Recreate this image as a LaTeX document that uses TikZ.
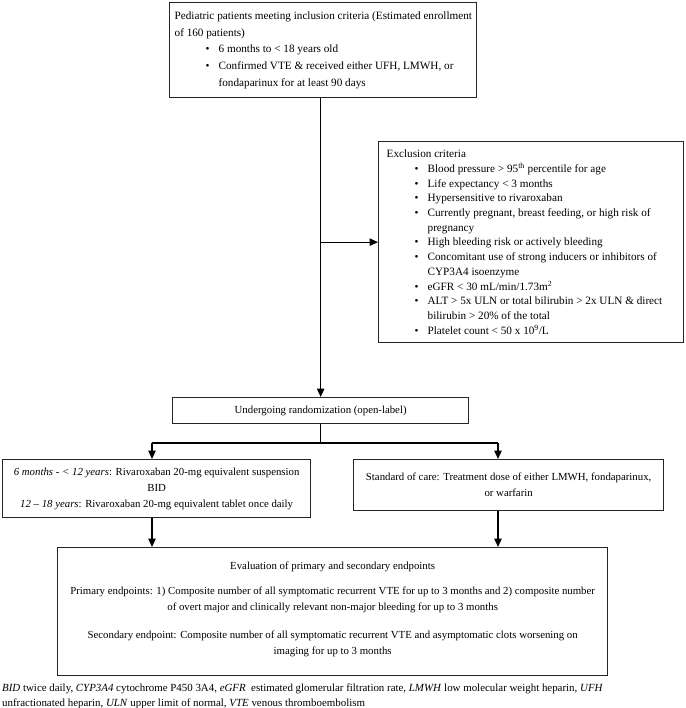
\documentclass[tikz,border=0pt]{standalone}
\usepackage{fontspec}
\setmainfont{Liberation Serif}
\usetikzlibrary{arrows.meta}
\newcommand{\bitem}[1]{{\leftskip=49pt\relax\noindent\llap{\textbullet\hspace{9pt}}#1\par}}
\tikzset{
  box/.style={draw=black!85, line width=1.3pt, inner sep=0pt, anchor=north west},
  conn/.style={line width=1.2pt},
  arr/.style={line width=1.2pt, -{Triangle[length=8.5pt,width=7.5pt]}},
}
\begin{document}
\begin{tikzpicture}[x=1pt,y=-1pt]
\useasboundingbox (0,0) rectangle (685,708);
\fontsize{10.8pt}{16.5pt}\selectfont
% inclusion
\node[box] (incl) at (169,2) {\begin{minipage}[c][95pt][c]{307pt}\fontsize{11.2pt}{16.8pt}\selectfont\raggedright
{\leftskip=5pt\relax Pediatric patients meeting inclusion criteria (Estimated enrollment\\of 160 patients)\par}
\bitem{6 months to < 18 years old}
\bitem{Confirmed VTE \& received either UFH, LMWH, or\\fondaparinux for at least 90 days}
\end{minipage}};
% exclusion
\node[box] (excl) at (378,141) {\begin{minipage}[c][201pt][c]{305pt}\fontsize{11.2pt}{14.7pt}\selectfont\raggedright
{\leftskip=8pt\relax Exclusion criteria\par}
\bitem{Blood pressure > 95\textsuperscript{th} percentile for age}
\bitem{Life expectancy < 3 months}
\bitem{Hypersensitive to rivaroxaban}
\bitem{Currently pregnant, breast feeding, or high risk of\\pregnancy}
\bitem{High bleeding risk or actively bleeding}
\bitem{Concomitant use of strong inducers or inhibitors of\\CYP3A4 isoenzyme}
\bitem{eGFR < 30 mL/min/1.73m\textsuperscript{2}}
\bitem{ALT > 5x ULN or total bilirubin > 2x ULN \& direct\\bilirubin > 20\% of the total}
\bitem{Platelet count < 50 x 10\textsuperscript{9}/L}
\end{minipage}};
% randomization
\node[box] (rand) at (172,397) {\begin{minipage}[c][26pt][c]{296pt}\centering
Undergoing randomization (open-label)
\end{minipage}};
% left arm
\node[box] (larm) at (2,459) {\begin{minipage}[c][58pt][c]{308pt}\centering\fontsize{10.8pt}{16pt}\selectfont
\textit{6 months - < 12 years}: Rivaroxaban 20-mg equivalent suspension\\
BID\\
\textit{12 – 18 years}: Rivaroxaban 20-mg equivalent tablet once daily
\end{minipage}};
% right arm
\node[box] (rarm) at (353,459) {\begin{minipage}[c][51pt][c]{310pt}\centering\fontsize{10.8pt}{16pt}\selectfont
Standard of care: Treatment dose of either LMWH, fondaparinux,\\
or warfarin
\end{minipage}};
% evaluation
\node[box] (eval) at (57,547) {\begin{minipage}[c][128pt][t]{550pt}\centering\fontsize{10.8pt}{16.5pt}\selectfont
\vspace*{14pt}
Evaluation of primary and secondary endpoints\\[8.5pt]
Primary endpoints: 1) Composite number of all symptomatic recurrent VTE for up to 3 months and 2) composite number\\
of overt major and clinically relevant non-major bleeding for up to 3 months\\[11pt]
Secondary endpoint: Composite number of all symptomatic recurrent VTE and asymptomatic clots worsening on\\
imaging for up to 3 months
\end{minipage}};
% footnote
\node[anchor=north west, inner sep=0pt] (foot) at (2,683.5) {\begin{minipage}{683pt}\fontsize{10.9pt}{15pt}\selectfont\raggedright
\textit{BID} twice daily, \textit{CYP3A4} cytochrome P450 3A4, \textit{eGFR}\ \ estimated glomerular filtration rate, \textit{LMWH} low molecular weight heparin, \textit{UFH}\\
unfractionated heparin, \textit{ULN} upper limit of normal, \textit{VTE} venous thromboembolism
\end{minipage}};
% connectors
\coordinate (la) at (152,443);
\coordinate (ra) at (498,443);
\draw[arr] (incl.south -| rand.north) -- (rand.north);
\draw[arr] (excl.west -| rand.north) -- (excl.west);
\draw[conn] (rand.south) -- (rand.south |- la);
\draw[conn] (la) -- (ra);
\draw[arr] (la) -- (la |- larm.north);
\draw[arr] (ra) -- (ra |- rarm.north);
\draw[arr] (la |- larm.south) -- (la |- eval.north);
\draw[arr] (ra |- rarm.south) -- (ra |- eval.north);
\end{tikzpicture}
\end{document}
